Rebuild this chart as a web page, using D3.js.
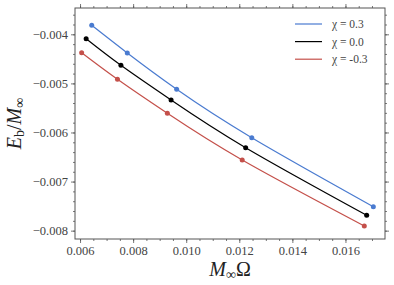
<!DOCTYPE html>
<html>
<head>
<meta charset="utf-8">
<script src="https://cdn.jsdelivr.net/npm/d3@7"></script>
<style>
  body { margin: 0; background: #fff; }
  svg { display: block; }
</style>
</head>
<body>
<script>
// data
const omegaPos = [0.00644, 0.00778, 0.00964, 0.01247, 0.01705]
const energyPos = [-0.003817, -0.004381, -0.00512, -0.006106, -0.007511]
const omegaZero = [0.00623, 0.00754, 0.00943, 0.01224, 0.01680]
const energyZero = [-0.00409, -0.004631, -0.005338, -0.00631, -0.007686]
const omegaNeg = [0.00606, 0.00741, 0.00929, 0.01211, 0.01671]
const energyNeg = [-0.004375, -0.004916, -0.005609, -0.00656, -0.007904]

const seriesNames = ['χ = 0.3', 'χ = 0.0', 'χ = -0.3']
const xTicks = [0.006, 0.008, 0.010, 0.012, 0.014, 0.016]
const yTicks = [-0.008, -0.007, -0.006, -0.005, -0.004]

const width = 394
const height = 285
const margin = { top: 8, right: 9, bottom: 46, left: 75 }
const serif = '"Liberation Serif", "DejaVu Serif", serif'

const series = [
  { name: seriesNames[0], color: '#4a7bd0', xs: omegaPos, ys: energyPos },
  { name: seriesNames[1], color: '#000000', xs: omegaZero, ys: energyZero },
  { name: seriesNames[2], color: '#c4504a', xs: omegaNeg, ys: energyNeg }
]

const svg = d3.select('body')
  .append('svg')
  .attr('width', width)
  .attr('height', height)
  .style('font-family', serif)

const x = d3.scaleLinear()
  .domain([0.00581, 0.01749])
  .range([margin.left, width - margin.right])

const y = d3.scaleLinear()
  .domain([-0.00817, -0.003464])
  .range([height - margin.bottom, margin.top])

const axisColor = '#555'
const fmt = d => d3.format('.3f')(d).replace('-', '\u2212')

// minor tick positions
const xMinor = d3.range(0.0055, 0.0176, 0.0005).filter(v => v > x.domain()[0] && v < x.domain()[1])
const yMinor = d3.range(-0.0082, -0.0034, 0.0002).filter(v => v > y.domain()[0] && v < y.domain()[1])

function styleAxis(g) {
  g.attr('font-family', null)
  g.select('.domain').remove()
  g.selectAll('line').attr('stroke', axisColor).attr('stroke-width', 0.8)
  g.selectAll('text')
    .attr('fill', '#444')
    .style('font-family', serif)
    .style('font-size', '12.5px')
}

// bottom
svg.append('g')
  .attr('transform', `translate(0,${height - margin.bottom})`)
  .call(d3.axisBottom(x).tickValues(xMinor).tickSize(2).tickFormat(''))
  .call(styleAxis)
svg.append('g')
  .attr('transform', `translate(0,${height - margin.bottom})`)
  .call(d3.axisBottom(x).tickValues(xTicks).tickSize(4).tickPadding(3).tickFormat(d3.format('.3f')))
  .call(styleAxis)

// top
svg.append('g')
  .attr('transform', `translate(0,${margin.top})`)
  .call(d3.axisTop(x).tickValues(xMinor).tickSize(2).tickFormat(''))
  .call(styleAxis)
svg.append('g')
  .attr('transform', `translate(0,${margin.top})`)
  .call(d3.axisTop(x).tickValues(xTicks).tickSize(4).tickFormat(''))
  .call(styleAxis)

// left
svg.append('g')
  .attr('transform', `translate(${margin.left},0)`)
  .call(d3.axisLeft(y).tickValues(yMinor).tickSize(2).tickFormat(''))
  .call(styleAxis)
svg.append('g')
  .attr('transform', `translate(${margin.left},0)`)
  .call(d3.axisLeft(y).tickValues(yTicks).tickSize(4).tickPadding(3).tickFormat(fmt))
  .call(styleAxis)

// right
svg.append('g')
  .attr('transform', `translate(${width - margin.right},0)`)
  .call(d3.axisRight(y).tickValues(yMinor).tickSize(2).tickFormat(''))
  .call(styleAxis)
svg.append('g')
  .attr('transform', `translate(${width - margin.right},0)`)
  .call(d3.axisRight(y).tickValues(yTicks).tickSize(4).tickFormat(''))
  .call(styleAxis)

// frame
svg.append('rect')
  .attr('x', margin.left)
  .attr('y', margin.top)
  .attr('width', width - margin.left - margin.right)
  .attr('height', height - margin.top - margin.bottom)
  .attr('fill', 'none')
  .attr('stroke', axisColor)
  .attr('stroke-width', 1)

// lines + points
const line = d3.line()
  .x(d => x(d[0]))
  .y(d => y(d[1]))
  .curve(d3.curveNatural)

series.forEach(s => {
  const pts = s.xs.map((v, i) => [v, s.ys[i]])
  svg.append('path')
    .datum(pts)
    .attr('d', line)
    .attr('fill', 'none')
    .attr('stroke', s.color)
    .attr('stroke-width', 1.2)
  svg.selectAll(null)
    .data(pts)
    .enter()
    .append('circle')
    .attr('cx', d => x(d[0]))
    .attr('cy', d => y(d[1]))
    .attr('r', 2.5)
    .attr('fill', s.color)
})

// legend
const legend = svg.append('g').attr('transform', 'translate(295,24)')
series.forEach((s, i) => {
  legend.append('line')
    .attr('x1', 0).attr('x2', 27)
    .attr('y1', i * 17.6).attr('y2', i * 17.6)
    .attr('stroke', s.color)
    .attr('stroke-width', 1.2)
  legend.append('text')
    .attr('x', 37)
    .attr('y', i * 17.6)
    .attr('dy', '0.35em')
    .attr('fill', '#444')
    .style('font-size', '11.5px')
    .text(s.name)
})

// x label
const xl = svg.append('text')
  .attr('x', (margin.left + width - margin.right) / 2)
  .attr('y', 276)
  .attr('text-anchor', 'middle')
  .style('font-size', '20px')
  .attr('fill', '#222')
xl.append('tspan').style('font-style', 'italic').text('M')
xl.append('tspan').attr('dy', 3).style('font-size', '14px').text('∞')
xl.append('tspan').attr('dy', -3).text('Ω')

// y label
const yl = svg.append('text')
  .attr('transform', `translate(21,${(margin.top + height - margin.bottom) / 2}) rotate(-90)`)
  .attr('text-anchor', 'middle')
  .style('font-size', '20px')
  .attr('fill', '#222')
yl.append('tspan').style('font-style', 'italic').text('E')
yl.append('tspan').attr('dy', 3).style('font-size', '14px').text('b')
yl.append('tspan').attr('dy', -3).text('/')
yl.append('tspan').style('font-style', 'italic').text('M')
yl.append('tspan').attr('dy', 3).style('font-size', '14px').text('∞')
</script>
</body>
</html>
